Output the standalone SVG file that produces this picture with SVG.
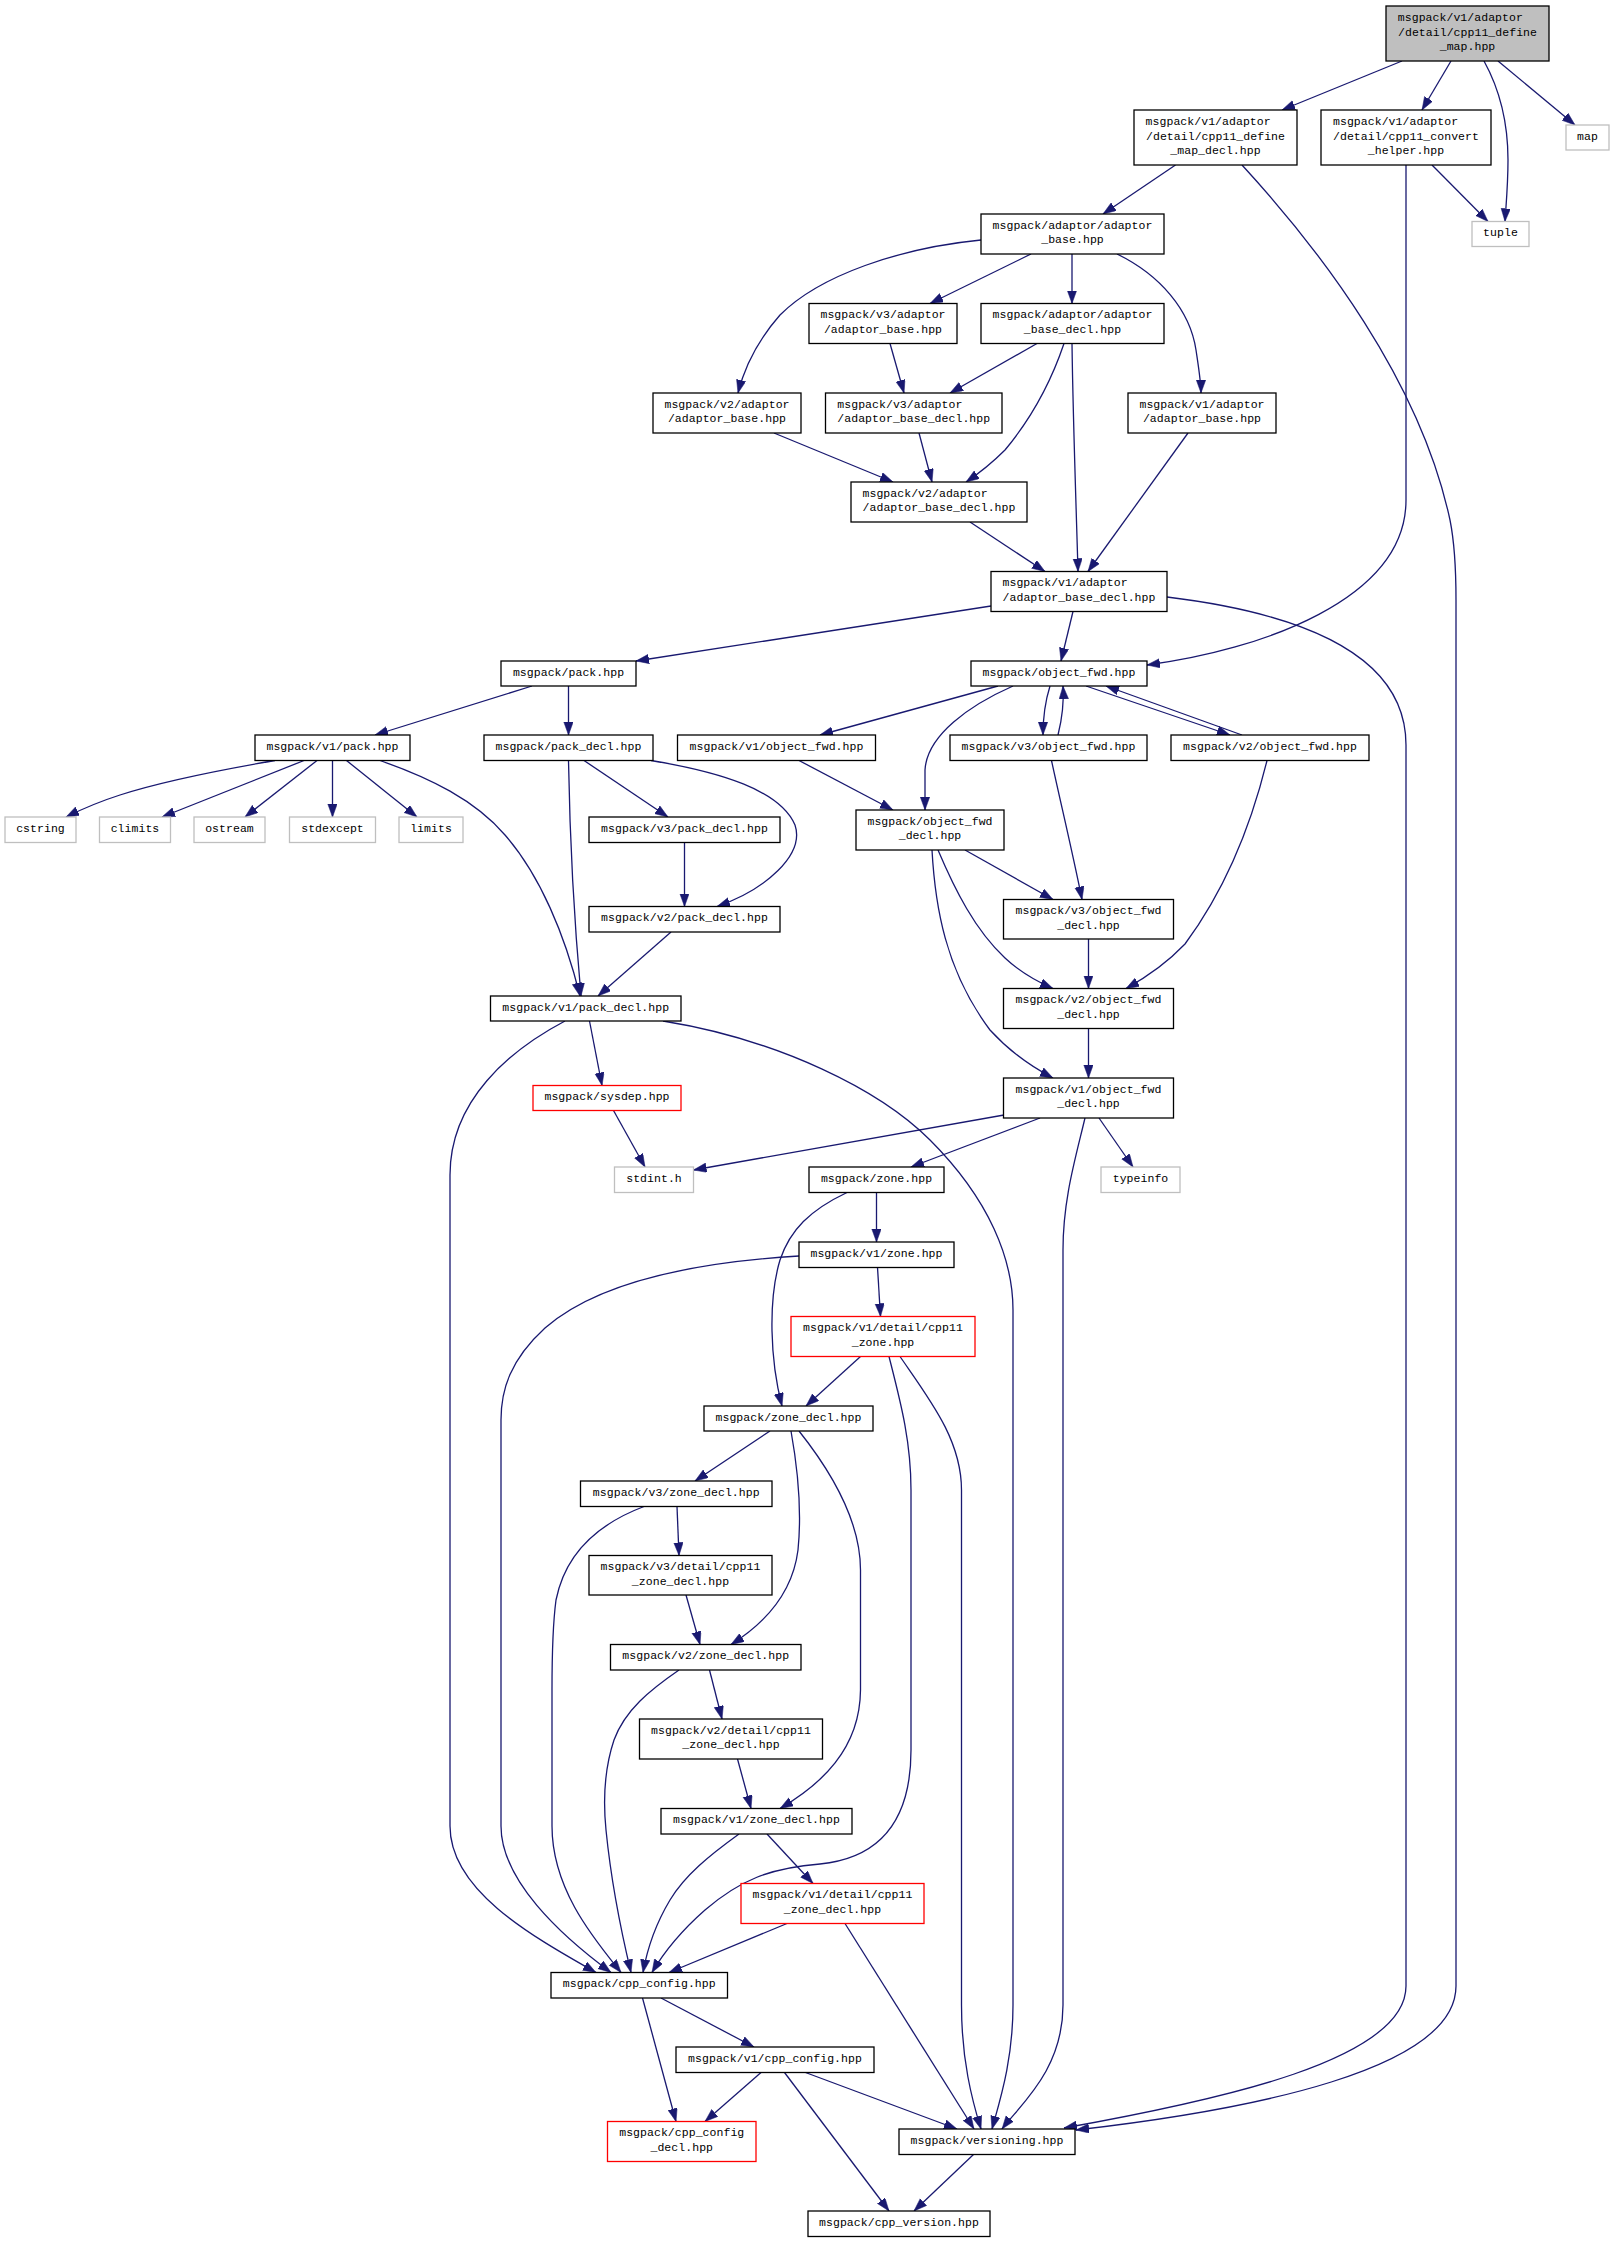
<svg xmlns="http://www.w3.org/2000/svg" width="1614" height="2243" viewBox="0 0 1614 2243">
<style>
.n rect{fill:#fff;stroke:#000;stroke-width:1.3}
.ext rect{stroke:#bfbfbf}
.red rect{stroke:#ff0000}
.root rect{fill:#bfbfbf}
text{font-family:"Liberation Mono","DejaVu Sans Mono",monospace;font-size:11.5px;letter-spacing:0.05px;fill:#000;text-anchor:middle}
text.s{text-anchor:start}
#edges path{fill:none;stroke:#191970;stroke-width:1.3;marker-end:url(#arr)}
</style>
<defs>
<marker id="arr" markerUnits="userSpaceOnUse" markerWidth="13" markerHeight="10" refX="13" refY="4.7" orient="auto">
<path d="M0,0 L13,4.7 L0,9.4 z" fill="#191970" stroke="#191970" stroke-width="0.5"/>
</marker>
</defs>
<rect width="1614" height="2243" fill="#fff"/>
<g id="edges">
<path d="M1402,61 L1282,110"/>
<path d="M1451,61 L1422,110"/>
<path d="M1484,61 C1500,90 1508,125 1508,160 C1508,185 1506,205 1505,221.5"/>
<path d="M1498,61 L1575,125"/>
<path d="M1175.5,165 L1103,214"/>
<path d="M1242,165 C1320,250 1420,380 1450,520 C1455,545 1456,570 1456,600 L1456,1986 C1456,2070 1250,2110 1076,2130"/>
<path d="M1432,165 L1488,221.5"/>
<path d="M1406,165 L1406,500 C1406,600 1260,650 1147,665"/>
<path d="M981,240 C900,248 820,275 780,315 C758,340 745,365 738,393"/>
<path d="M1031,254 L930,303.5"/>
<path d="M1072,254 L1072,303.5"/>
<path d="M1117,254 C1160,275 1190,310 1196,350 C1199,370 1201,382 1201,393"/>
<path d="M890,343.5 L904,393"/>
<path d="M1037,343.5 L950,393"/>
<path d="M1064,343.5 C1050,385 1030,420 1005,450 C990,465 978,474 966,482"/>
<path d="M1072,343.5 C1073,420 1076,500 1078,571.5"/>
<path d="M774,433 L893,482"/>
<path d="M919,433 L932,482"/>
<path d="M970,522 L1045,571.5"/>
<path d="M1188,433 L1088,571.5"/>
<path d="M991,606 L636,661"/>
<path d="M1073,611.5 L1061,661"/>
<path d="M1167,597 C1290,612 1406,650 1406,745 L1406,1986 C1406,2060 1220,2100 1064,2128"/>
<path d="M532,686 L375,735"/>
<path d="M568.5,686 L568.5,735"/>
<path d="M998,686 L820,735"/>
<path d="M1013,686 C970,705 927,735 925,770 L925,810"/>
<path d="M1050,686 C1045,702 1043,718 1043,735"/>
<path d="M1058,735 C1062,719 1064,702 1063,686"/>
<path d="M1086,686 L1230,735"/>
<path d="M1242,735 L1106,686"/>
<path d="M275,760.5 C220,770 160,782 120,795 C95,803 80,810 66,817"/>
<path d="M304,760.5 L162,817"/>
<path d="M317,760.5 L245,817"/>
<path d="M332.5,760.5 L332.5,817"/>
<path d="M346.5,760.5 L417,817"/>
<path d="M380,760.5 C430,778 475,800 505,835 C540,875 565,935 580,996"/>
<path d="M568.5,760.5 C570,850 575,930 581,996"/>
<path d="M584,760.5 L668,817"/>
<path d="M651,760.5 C720,772 780,790 795,825 C805,855 765,890 717,906.5"/>
<path d="M684.5,842.5 L684.5,906.5"/>
<path d="M671,932 L598,996"/>
<path d="M799,760.5 L893,810"/>
<path d="M1051.5,760.5 C1060,800 1072,850 1082,899.5"/>
<path d="M965,850 L1053,899.5"/>
<path d="M938,850 C955,890 975,930 1005,958 C1020,972 1038,982 1053,988.5"/>
<path d="M932,850 C935,905 945,970 990,1030 C1010,1052 1030,1066 1053,1078"/>
<path d="M1088.5,939 L1088.5,988.5"/>
<path d="M1267,760.5 C1250,830 1225,890 1185,944 C1165,965 1145,978 1126,988.5"/>
<path d="M1088.5,1028.5 L1088.5,1078"/>
<path d="M589.5,1021 L602,1085.5"/>
<path d="M565,1021 C510,1050 450,1100 450,1175 L450,1826 C450,1890 530,1935 596,1972.5"/>
<path d="M663,1021 C780,1040 880,1090 930,1140 C990,1200 1013,1260 1013,1310 L1013,2005 C1013,2060 1000,2100 992,2129"/>
<path d="M613.5,1110.5 L645,1167"/>
<path d="M1004,1115 L693.5,1170"/>
<path d="M1040,1118 L911,1167"/>
<path d="M1099,1118 L1133,1167"/>
<path d="M1085,1118 C1075,1160 1063,1200 1063,1250 L1063,2005 C1063,2070 1020,2105 1002,2129"/>
<path d="M876.5,1192.5 L876.5,1242"/>
<path d="M847,1192.5 C810,1210 790,1230 780,1260 C768,1300 770,1360 782,1406"/>
<path d="M877.5,1267.5 L880.5,1316.5"/>
<path d="M799,1256 C700,1262 600,1280 545,1328 C510,1360 501,1390 501,1420 L501,1826 C501,1880 560,1935 611,1972.5"/>
<path d="M860.5,1356.5 L806,1406"/>
<path d="M889,1356.5 C900,1400 911,1440 911,1490 L911,1750 C911,1820 880,1858 820,1864 C770,1868 740,1880 705,1910 C680,1932 664,1952 652,1972.5"/>
<path d="M900,1356.5 C930,1400 961.5,1440 961.5,1490 L961.5,2005 C961.5,2060 972,2100 981,2129"/>
<path d="M770,1431 L695,1481"/>
<path d="M791,1431 C798,1470 802,1510 798,1550 C793,1590 770,1620 731,1644.5"/>
<path d="M799,1431 C830,1470 860.5,1520 860.5,1570 L860.5,1690 C860,1750 820,1785 780,1808.5"/>
<path d="M677,1506.5 L679,1555.5"/>
<path d="M644,1506.5 C595,1525 565,1555 556,1600 C552,1630 552,1660 552,1690 L552,1826 C552,1890 595,1940 621,1972.5"/>
<path d="M686,1595 L700,1644.5"/>
<path d="M709.5,1670 L722,1719"/>
<path d="M679,1670 C650,1690 625,1710 614,1740 C604,1770 603,1800 606,1830 C612,1890 622,1935 631,1972.5"/>
<path d="M737.5,1759 L751,1808.5"/>
<path d="M767,1834 L813,1883.5"/>
<path d="M739,1834 C710,1855 685,1875 670,1900 C655,1925 647,1950 643,1972.5"/>
<path d="M787,1923.5 L669,1972.5"/>
<path d="M845,1923.5 L974,2129"/>
<path d="M661,1998 L754,2047"/>
<path d="M642.5,1998 L676,2121.5"/>
<path d="M761,2072.5 L705,2121.5"/>
<path d="M805.5,2072.5 L957,2129"/>
<path d="M784.5,2072.5 L889,2211"/>
<path d="M973.5,2154.5 L914,2211"/>
</g>
<g id="n_root" class="n root"><rect x="1386" y="6" width="163" height="55"/><text class="s" x="1397.8" y="20.6">msgpack/v1/adaptor</text><text x="1467.5" y="35.5">/detail/cpp11_define</text><text x="1467.5" y="50.3">_map.hpp</text></g>
<g id="n_a" class="n"><rect x="1134" y="110" width="163" height="55"/><text class="s" x="1145.6" y="124.6">msgpack/v1/adaptor</text><text x="1215.5" y="139.5">/detail/cpp11_define</text><text x="1215.5" y="154.3">_map_decl.hpp</text></g>
<g id="n_b" class="n"><rect x="1321" y="110" width="170" height="55"/><text class="s" x="1333" y="124.6">msgpack/v1/adaptor</text><text x="1406" y="139.5">/detail/cpp11_convert</text><text x="1406" y="154.3">_helper.hpp</text></g>
<g id="n_map" class="n ext"><rect x="1566" y="125" width="43" height="25"/><text x="1587.5" y="139.5">map</text></g>
<g id="n_tuple" class="n ext"><rect x="1472" y="221.5" width="57" height="25"/><text x="1500.5" y="236">tuple</text></g>
<g id="n_ab" class="n"><rect x="981" y="214" width="183" height="40"/><text x="1072.5" y="228.6">msgpack/adaptor/adaptor</text><text x="1072.5" y="243.4">_base.hpp</text></g>
<g id="n_v3ab" class="n"><rect x="809" y="303.5" width="148" height="40"/><text x="883" y="318.1">msgpack/v3/adaptor</text><text x="883" y="332.9">/adaptor_base.hpp</text></g>
<g id="n_abd" class="n"><rect x="981" y="303.5" width="183" height="40"/><text x="1072.5" y="318.1">msgpack/adaptor/adaptor</text><text x="1072.5" y="332.9">_base_decl.hpp</text></g>
<g id="n_v2ab" class="n"><rect x="653" y="393" width="148" height="40"/><text x="727" y="407.6">msgpack/v2/adaptor</text><text x="727" y="422.4">/adaptor_base.hpp</text></g>
<g id="n_v3abd" class="n"><rect x="825.5" y="393" width="176.5" height="40"/><text class="s" x="837.3" y="407.6">msgpack/v3/adaptor</text><text x="913.75" y="422.4">/adaptor_base_decl.hpp</text></g>
<g id="n_v1ab" class="n"><rect x="1128" y="393" width="148" height="40"/><text x="1202" y="407.6">msgpack/v1/adaptor</text><text x="1202" y="422.4">/adaptor_base.hpp</text></g>
<g id="n_v2abd" class="n"><rect x="851" y="482" width="176" height="40"/><text class="s" x="862.5" y="496.6">msgpack/v2/adaptor</text><text x="939" y="511.4">/adaptor_base_decl.hpp</text></g>
<g id="n_v1abd" class="n"><rect x="991" y="571.5" width="176" height="40"/><text class="s" x="1002.5" y="586.1">msgpack/v1/adaptor</text><text x="1079" y="600.9">/adaptor_base_decl.hpp</text></g>
<g id="n_pack" class="n"><rect x="501" y="661" width="135" height="25"/><text x="568.5" y="675.5">msgpack/pack.hpp</text></g>
<g id="n_of" class="n"><rect x="971" y="661" width="176" height="25"/><text x="1059" y="675.5">msgpack/object_fwd.hpp</text></g>
<g id="n_v1pack" class="n"><rect x="255" y="735" width="155" height="25.5"/><text x="332.5" y="749.8">msgpack/v1/pack.hpp</text></g>
<g id="n_pd" class="n"><rect x="484" y="735" width="169" height="25.5"/><text x="568.5" y="749.8">msgpack/pack_decl.hpp</text></g>
<g id="n_v1of" class="n"><rect x="677.5" y="735" width="198" height="25.5"/><text x="776.5" y="749.8">msgpack/v1/object_fwd.hpp</text></g>
<g id="n_v3of" class="n"><rect x="950" y="735" width="197" height="25.5"/><text x="1048.5" y="749.8">msgpack/v3/object_fwd.hpp</text></g>
<g id="n_v2of" class="n"><rect x="1171" y="735" width="198" height="25.5"/><text x="1270" y="749.8">msgpack/v2/object_fwd.hpp</text></g>
<g id="n_cstring" class="n ext"><rect x="5" y="817" width="71" height="25.5"/><text x="40.5" y="831.8">cstring</text></g>
<g id="n_climits" class="n ext"><rect x="99.5" y="817" width="71" height="25.5"/><text x="135" y="831.8">climits</text></g>
<g id="n_ostream" class="n ext"><rect x="194" y="817" width="71" height="25.5"/><text x="229.5" y="831.8">ostream</text></g>
<g id="n_stdexcept" class="n ext"><rect x="289.5" y="817" width="86" height="25.5"/><text x="332.5" y="831.8">stdexcept</text></g>
<g id="n_limits" class="n ext"><rect x="399" y="817" width="64" height="25.5"/><text x="431" y="831.8">limits</text></g>
<g id="n_v3pd" class="n"><rect x="589" y="817" width="191" height="25.5"/><text x="684.5" y="831.8">msgpack/v3/pack_decl.hpp</text></g>
<g id="n_ofd" class="n"><rect x="856" y="810" width="148" height="40"/><text x="930" y="824.6">msgpack/object_fwd</text><text x="930" y="839.4">_decl.hpp</text></g>
<g id="n_v2pd" class="n"><rect x="589" y="906.5" width="191" height="25.5"/><text x="684.5" y="921.3">msgpack/v2/pack_decl.hpp</text></g>
<g id="n_v3ofd" class="n"><rect x="1003.5" y="899.5" width="170" height="39.5"/><text x="1088.5" y="913.9">msgpack/v3/object_fwd</text><text x="1088.5" y="928.7">_decl.hpp</text></g>
<g id="n_v2ofd" class="n"><rect x="1003.5" y="988.5" width="170" height="40"/><text x="1088.5" y="1003.1">msgpack/v2/object_fwd</text><text x="1088.5" y="1017.9">_decl.hpp</text></g>
<g id="n_v1ofd" class="n"><rect x="1003.5" y="1078" width="170" height="40"/><text x="1088.5" y="1092.6">msgpack/v1/object_fwd</text><text x="1088.5" y="1107.4">_decl.hpp</text></g>
<g id="n_v1pd" class="n"><rect x="490.5" y="996" width="190.5" height="25"/><text x="585.75" y="1010.5">msgpack/v1/pack_decl.hpp</text></g>
<g id="n_sysdep" class="n red"><rect x="533" y="1085.5" width="148" height="25"/><text x="607" y="1100">msgpack/sysdep.hpp</text></g>
<g id="n_stdint" class="n ext"><rect x="614.5" y="1167" width="79" height="25.5"/><text x="654" y="1181.8">stdint.h</text></g>
<g id="n_zone" class="n"><rect x="809" y="1167" width="135" height="25.5"/><text x="876.5" y="1181.8">msgpack/zone.hpp</text></g>
<g id="n_typeinfo" class="n ext"><rect x="1101" y="1167" width="79" height="25.5"/><text x="1140.5" y="1181.8">typeinfo</text></g>
<g id="n_v1zone" class="n"><rect x="799" y="1242" width="155" height="25.5"/><text x="876.5" y="1256.8">msgpack/v1/zone.hpp</text></g>
<g id="n_v1cz" class="n red"><rect x="791" y="1316.5" width="184" height="40"/><text x="883" y="1331.1">msgpack/v1/detail/cpp11</text><text x="883" y="1345.9">_zone.hpp</text></g>
<g id="n_zd" class="n"><rect x="704" y="1406" width="169" height="25"/><text x="788.5" y="1420.5">msgpack/zone_decl.hpp</text></g>
<g id="n_v3zd" class="n"><rect x="580.5" y="1481" width="191.5" height="25.5"/><text x="676.25" y="1495.8">msgpack/v3/zone_decl.hpp</text></g>
<g id="n_v3czd" class="n"><rect x="589" y="1555.5" width="183" height="39.5"/><text x="680.5" y="1569.9">msgpack/v3/detail/cpp11</text><text x="680.5" y="1584.7">_zone_decl.hpp</text></g>
<g id="n_v2zd" class="n"><rect x="610.5" y="1644.5" width="190.5" height="25.5"/><text x="705.75" y="1659.3">msgpack/v2/zone_decl.hpp</text></g>
<g id="n_v2czd" class="n"><rect x="639.5" y="1719" width="183" height="40"/><text x="731" y="1733.6">msgpack/v2/detail/cpp11</text><text x="731" y="1748.4">_zone_decl.hpp</text></g>
<g id="n_v1zd" class="n"><rect x="661" y="1808.5" width="191" height="25.5"/><text x="756.5" y="1823.3">msgpack/v1/zone_decl.hpp</text></g>
<g id="n_v1czd" class="n red"><rect x="741" y="1883.5" width="183" height="40"/><text x="832.5" y="1898.1">msgpack/v1/detail/cpp11</text><text x="832.5" y="1912.9">_zone_decl.hpp</text></g>
<g id="n_cc" class="n"><rect x="551" y="1972.5" width="176.5" height="25.5"/><text x="639.25" y="1987.3">msgpack/cpp_config.hpp</text></g>
<g id="n_v1cc" class="n"><rect x="676" y="2047" width="198" height="25.5"/><text x="775" y="2061.8">msgpack/v1/cpp_config.hpp</text></g>
<g id="n_ccd" class="n red"><rect x="607.5" y="2121.5" width="148.5" height="40"/><text x="681.75" y="2136.1">msgpack/cpp_config</text><text x="681.75" y="2150.9">_decl.hpp</text></g>
<g id="n_ver" class="n"><rect x="899" y="2129" width="176" height="25.5"/><text x="987" y="2143.8">msgpack/versioning.hpp</text></g>
<g id="n_cv" class="n"><rect x="808" y="2211" width="182" height="25.5"/><text x="899" y="2225.8">msgpack/cpp_version.hpp</text></g>
</svg>
